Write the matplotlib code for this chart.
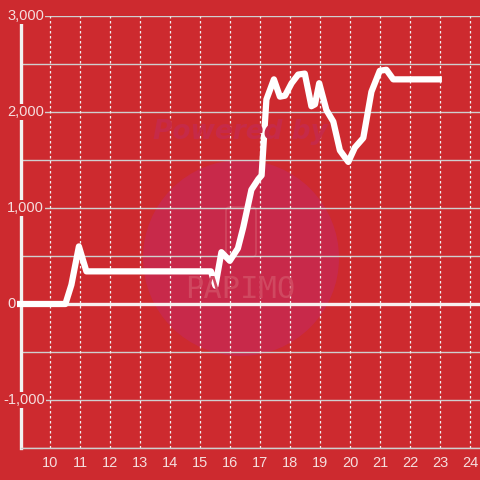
import matplotlib
matplotlib.use("Agg")
import matplotlib.pyplot as plt
from matplotlib.patches import Circle, FancyBboxPatch
from matplotlib.transforms import blended_transform_factory

x_vals = [8.88, 10.5, 10.7, 10.95, 11.2, 15.35, 15.5, 15.7, 15.98, 16.25, 16.43,
          16.7, 16.93, 17.04, 17.2, 17.45, 17.65, 17.82, 18.04, 18.26, 18.48,
          18.7, 18.82, 18.96, 19.2, 19.43, 19.65, 19.93, 20.15, 20.43, 20.7,
          20.98, 21.2, 21.43, 23.05]
y_vals = [0, 0, 200, 600, 340, 340, 190, 540, 450, 580, 800,
          1190, 1300, 1340, 2130, 2340, 2160, 2170, 2300, 2390, 2400,
          2060, 2080, 2300, 2020, 1900, 1600, 1480, 1630, 1730, 2210,
          2430, 2440, 2340, 2340]
x_ticks = list(range(10, 25))
y_ticks = [-1000, 0, 1000, 2000, 3000]
y_tick_labels = ["-1,000", "0", "1,000", "2,000", "3,000"]
y_grid = [-1500, -1000, -500, 0, 500, 1000, 1500, 2000, 2500, 3000]

BG = "#cd2a2f"
TXT = "#f5dede"

fig = plt.figure(figsize=(4.8, 4.8), dpi=100, facecolor=BG)
ax = fig.add_axes([21/480, 32/480, 459/480, 432/480])
ax.set_facecolor(BG)
ax.set_xlim(9.02, 24.32)
ax.set_ylim(-1500, 3000)

# watermark
ax.add_patch(Circle((241, 480-258), 98, transform=None, facecolor="#c8294a",
                    edgecolor="none", zorder=0.5))
fig.text(240/480, 1-132/480, "Powered by", ha="center", va="center",
         fontsize=19, fontweight="bold", fontstyle="italic", color="#c62a48",
         family="DejaVu Sans", zorder=0.6)
ax.add_patch(FancyBboxPatch((226, 480-257), 30, 50, transform=None,
                            boxstyle="round,pad=0,rounding_size=4",
                            facecolor="none", edgecolor="#d04860", lw=1.2, zorder=0.6))
fig.text(240/480, 1-290/480, "PAPIMO", ha="center", va="center",
         fontsize=22, color="#d04860", family="DejaVu Sans Mono", zorder=0.6)

# grid
for g in y_grid:
    ax.axhline(g, color="#cfcfcf", lw=1, zorder=1)
for t in x_ticks:
    ax.axvline(t, color="#f0f0f0", lw=0.9, ls=(0, (2, 2)), zorder=1)
ax.axhline(0, color="#f7f0f0", lw=2.4, zorder=2)

ax.plot(x_vals, y_vals, color="white", lw=4.5, solid_joinstyle="round",
        solid_capstyle="butt", zorder=3, clip_on=False)

for s in ["top", "right"]:
    ax.spines[s].set_visible(False)
ax.spines["left"].set_color("#f2f2f2")
ax.spines["left"].set_linewidth(2.4)
ax.spines["bottom"].set_color("#cfcfcf")
ax.spines["bottom"].set_linewidth(1)

ax.set_xticks(x_ticks)
ax.set_xticklabels([str(t) for t in x_ticks], fontsize=10.5, color=TXT,
                   family="Liberation Sans")
ax.tick_params(axis="x", length=0, pad=6)
ax.set_yticks([])

tr = blended_transform_factory(fig.transFigure, ax.transData)
for v, lab in zip(y_ticks, y_tick_labels):
    xpos = 3/480 if v < 0 else 7/480
    ax.text(xpos, v, lab, transform=tr, ha="left", va="center",
            fontsize=10.5, color=TXT, family="Liberation Sans", zorder=6,
            clip_on=False,
            bbox=dict(facecolor=BG, edgecolor="none", pad=1.0))

fig.savefig("out.png", dpi=100, facecolor=BG)
